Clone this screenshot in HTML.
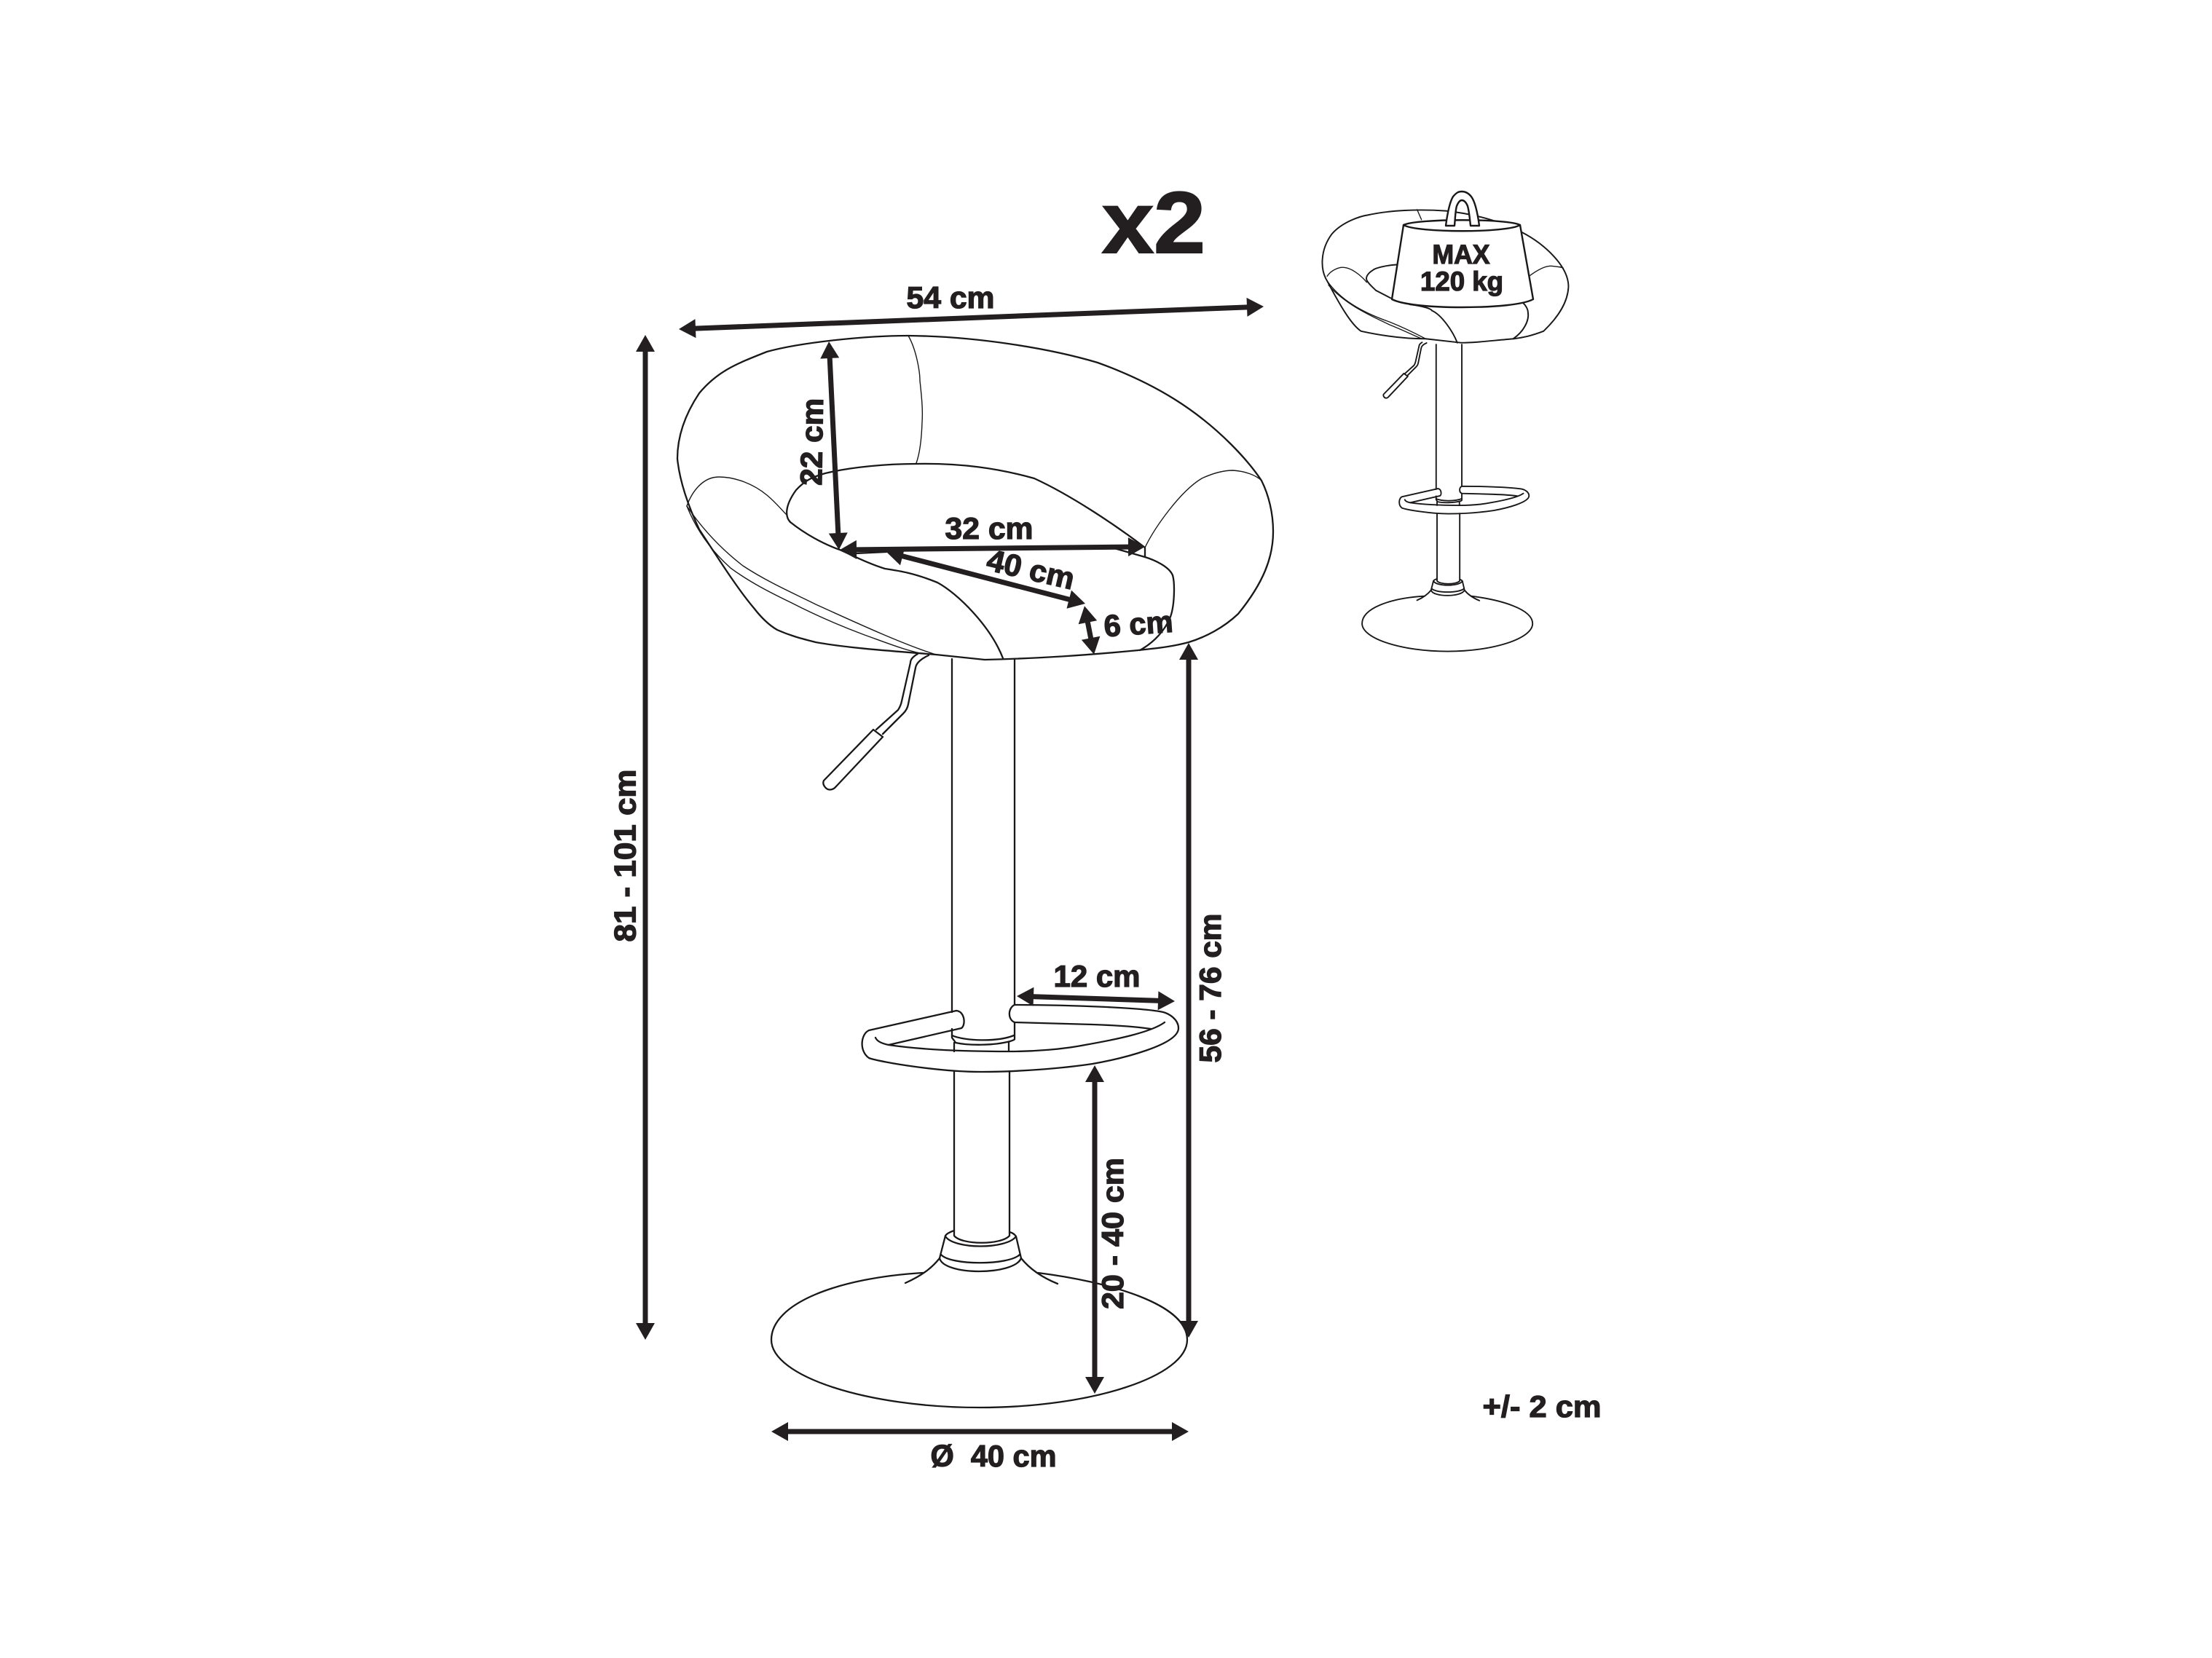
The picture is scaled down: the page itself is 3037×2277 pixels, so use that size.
<!DOCTYPE html>
<html>
<head>
<meta charset="utf-8">
<style>
html,body{margin:0;padding:0;background:#fff;}
svg{display:block;}
text{font-family:"Liberation Sans",sans-serif;font-weight:bold;fill:#231f20;stroke:#231f20;stroke-width:1.3;text-anchor:middle;font-size:42px;}
.l{fill:none;stroke:#1a1718;stroke-linejoin:round;stroke-linecap:round;}
.a{stroke:#231f20;stroke-width:7;fill:none;marker-start:url(#h);marker-end:url(#h);}
</style>
</head>
<body>
<svg width="3037" height="2277" viewBox="0 0 3037 2277" xmlns="http://www.w3.org/2000/svg">
<defs>
<marker id="h" markerUnits="userSpaceOnUse" markerWidth="26" markerHeight="28" refX="11" refY="13.5" orient="auto-start-reverse" overflow="visible">
<path d="M0 0.5L23 13.5L0 26.5Z" fill="#231f20"/>
</marker>
<g id="stem" class="l">
<!-- handle -->
<path d="M1260 898C1253 902 1250 906 1250 910L1238 963C1237 968 1235 972 1233 975L1203 1002"/>
<path d="M1275 900C1266 904 1258 910 1257 917L1247 967C1246 973 1243 977 1240 980L1212 1008"/>
<path d="M1199 1002L1212 1012L1148 1080C1143 1086 1136 1086 1132 1080C1130 1077 1130 1074 1131 1072Z"/>
<!-- pole upper -->
<path d="M1307 905V1390M1393 905V1380"/>
<path d="M1307 1413V1425C1309 1428 1311 1430 1312 1432C1330 1436 1365 1436 1387 1430C1390 1429 1393 1428 1393 1427V1404"/>
<path d="M1307 1422C1325 1430 1370 1431 1392 1422"/>
<path d="M1310 1432V1444M1385 1431V1444"/>
<!-- pole lower -->
<path d="M1310 1471V1697C1320 1710 1375 1710 1386 1697V1471"/>
<!-- foot ring -->
<path d="M1313 1388L1193 1415C1182 1420 1179 1443 1193 1453C1210 1459 1290 1472 1347 1472C1400 1472 1460 1467 1500 1461C1540 1454 1618 1435 1618 1412C1618 1400 1605 1392 1597 1390C1570 1384 1470 1380 1393 1380C1384 1384 1383 1400 1393 1404L1500 1407C1530 1408 1560 1410 1580 1413"/>
<path d="M1313 1388C1325 1389 1326 1408 1320 1412L1220 1435"/>
<path d="M1202 1425C1204 1430 1210 1433 1220 1435C1260 1441 1320 1444 1387 1444C1420 1444 1460 1441 1490 1435C1530 1428 1580 1418 1599 1404"/>
<!-- collar -->
<path d="M1310 1690C1304 1692 1300 1694 1298 1697L1290 1728C1296 1752 1392 1752 1402 1728L1395 1698C1393 1695 1390 1693 1386 1692"/>
<path d="M1298 1698C1310 1716 1382 1716 1395 1698"/>
<path d="M1292 1723C1305 1738 1385 1738 1400 1723"/>
<path d="M1290 1728C1282 1738 1270 1750 1243 1762M1402 1728C1410 1738 1425 1752 1452 1763"/>
<!-- base -->
<path d="M1267 1748C1150 1755 1059 1790 1059 1840C1059 1890 1190 1933 1345 1933C1500 1933 1630 1890 1630 1840C1630 1790 1520 1760 1425 1748"/>
</g>
</defs>

<!-- MAIN CHAIR -->
<g class="l" stroke-width="2.3">
<use href="#stem"/>
<path d="M930 630C930 600 940 570 960 540C985 510 1010 500 1053 483C1100 470 1190 461 1247 461C1340 462 1440 478 1507 498C1590 528 1645 565 1690 610C1708 628 1722 645 1732 660C1742 680 1748 705 1748 730C1748 765 1735 800 1700 843C1680 862 1655 875 1632 882C1610 888 1590 890 1563 893C1490 900 1430 904 1352 906L1285 899C1240 895 1170 891 1120 882C1100 877 1085 873 1067 865C1055 858 1045 848 1035 835C1012 808 985 765 960 727C945 695 933 660 930 630Z"/>
<path d="M1085 717C1078 710 1077 695 1093 673C1105 660 1115 655 1133 650C1170 641 1220 637 1258 637C1320 636 1370 643 1420 657C1470 680 1530 720 1572 752V765"/>
<path d="M1085 717C1105 733 1130 747 1153 755C1175 765 1195 775 1215 781C1235 784 1255 787 1287 800C1315 815 1360 860 1377 904"/>
<path d="M1530 753L1572 765"/>
<path d="M1572 765C1585 769 1605 778 1610 790C1613 800 1613 830 1607 847C1600 865 1585 882 1565 893"/>
<path d="M1175 760L1217 758"/>
<g stroke-width="1.4">
<path d="M1247 461C1258 480 1263 510 1263 523C1266 550 1267 565 1266 580C1265 610 1262 625 1258 636"/>
<path d="M943 695C950 675 965 655 987 655C1010 655 1035 665 1053 680C1065 690 1073 700 1080 707"/>
<path d="M1572 752C1585 725 1620 675 1650 657C1665 650 1680 646 1693 646C1710 647 1725 653 1732 660"/>
<path d="M943 695C960 720 985 750 1020 777C1055 800 1090 815 1120 830C1175 855 1240 885 1285 899"/>
<path d="M943 695C955 725 975 755 1003 780C1030 800 1060 815 1087 828C1120 845 1155 860 1187 872C1215 882 1240 892 1263 897"/>
</g>
</g>

<!-- SMALL CHAIR -->
<use href="#stem" transform="translate(1435.9 102) scale(.41)" stroke-width="4.6"/>
<g transform="scale(1.9468) translate(-2.8 -1) scale(.9976 .9958)">
<g class="l" stroke-width="1">
<path d="M941 200C936 192 936 178 944.4 166.7C952 158 965 154 970 153.3C985 150 1005 149 1025 150.4C1040 152 1060 156 1078.6 165.5C1095 174 1112 190 1111.6 204.5C1111 215 1105 225 1094 235.6C1085 239 1080 240 1073 241C1060 242 1045 244 1035.6 243.8L1010.6 241C1000 241 985 240 965 235.6C958 231 950 217 941 200Z"/>
<path d="M990 188.5C982 189 975 191 973.6 192.2C969 195 968 198 969.3 200C971 203 975 206 975.4 206.7L986 212.2"/>
<path d="M999.4 216.7C1010 218 1015 220 1015 221C1022 224 1030 236 1033 243.8"/>
<path d="M1077.7 214.5C1081 216 1083 220 1083 222.3C1084 228 1080 236 1072.5 241"/>
<g stroke-width="0.7">
<path d="M1004.6 149.5L1007.7 156.6"/>
<path d="M941 196.7C944 192 950 190 953 190.5C958 191 964 195 969 201"/>
<path d="M1083.7 196.7C1090 192 1096 189 1100 189.5C1104 190 1107 190 1108 191"/>
<path d="M941 200C950 213 965 222 985 229C995 233 1005 238 1010.6 241"/>
<path d="M942 203C955 218 975 226 985 231C995 235 1003 239 1008 241"/>
</g>
</g>
</g>
<!-- weight -->
<g class="l" stroke-width="2.4">
<path fill="#fff" d="M1927 309L1911 411C1925 418 1960 422 2007 422C2055 422 2092 418 2105 411L2087 309C2070 300 1945 300 1927 309Z"/>
<path d="M1927 309C1945 320 2070 320 2087 309"/>
<path fill="#fff" d="M1985 310C1987 295 1990 278 1995 270C2000 264 2003 263 2007 263C2012 263 2016 265 2020 270C2026 278 2029 295 2031 310H2019C2018 300 2017 290 2015 283C2013 278 2010 275 2007 275C2004 275 2002 278 2000 283C1998 290 1998 300 1997 310Z"/>
</g>

<!-- ARROWS -->
<path class="a" d="M944 451.5L1723 421.5"/>
<path class="a" d="M886 472V1828"/>
<path class="a" d="M1138.7 481L1151.3 743"/>
<path class="a" d="M1165 755L1560 751"/>
<path class="a" d="M1228.6 761L1478.4 826"/>
<path class="a" d="M1491.3 844L1499.7 887"/>
<path class="a" d="M1632 895V1825"/>
<path class="a" d="M1408 1368.4L1601 1374.6"/>
<path class="a" d="M1503 1475V1902"/>
<path class="a" d="M1071 1966H1620"/>

<!-- LABELS -->
<text x="1584" y="347" style="font-size:120px;stroke-width:2" textLength="142" lengthAdjust="spacingAndGlyphs">x2</text>
<text x="1305" y="423" textLength="121" lengthAdjust="spacingAndGlyphs">54 cm</text>
<text x="1358" y="740" textLength="121" lengthAdjust="spacingAndGlyphs">32 cm</text>
<text transform="translate(1412 796) rotate(13)" textLength="122" lengthAdjust="spacingAndGlyphs">40 cm</text>
<text transform="translate(1564 871) rotate(-4)" textLength="95" lengthAdjust="spacingAndGlyphs">6 cm</text>
<text x="1506" y="1355" textLength="119" lengthAdjust="spacingAndGlyphs">12 cm</text>
<text x="1364" y="2014" textLength="173" lengthAdjust="spacingAndGlyphs">Ø&#160;&#160;40 cm</text>
<text x="2117" y="1946" textLength="163" lengthAdjust="spacingAndGlyphs">+/- 2 cm</text>
<text transform="translate(1129 607) rotate(-89)" textLength="120" lengthAdjust="spacingAndGlyphs">22 cm</text>
<text transform="translate(872.4 1175) rotate(-90)" textLength="237" lengthAdjust="spacingAndGlyphs">81 - 101 cm</text>
<text transform="translate(1676 1357) rotate(-90)" textLength="205" lengthAdjust="spacingAndGlyphs">56 - 76 cm</text>
<text transform="translate(1542 1694) rotate(-90)" textLength="208" lengthAdjust="spacingAndGlyphs">20 - 40 cm</text>
<text x="2006" y="362" style="font-size:37px" textLength="79" lengthAdjust="spacingAndGlyphs">MAX</text>
<text x="2007" y="399" style="font-size:37px" textLength="114" lengthAdjust="spacingAndGlyphs">120 kg</text>
</svg>
</body>
</html>
